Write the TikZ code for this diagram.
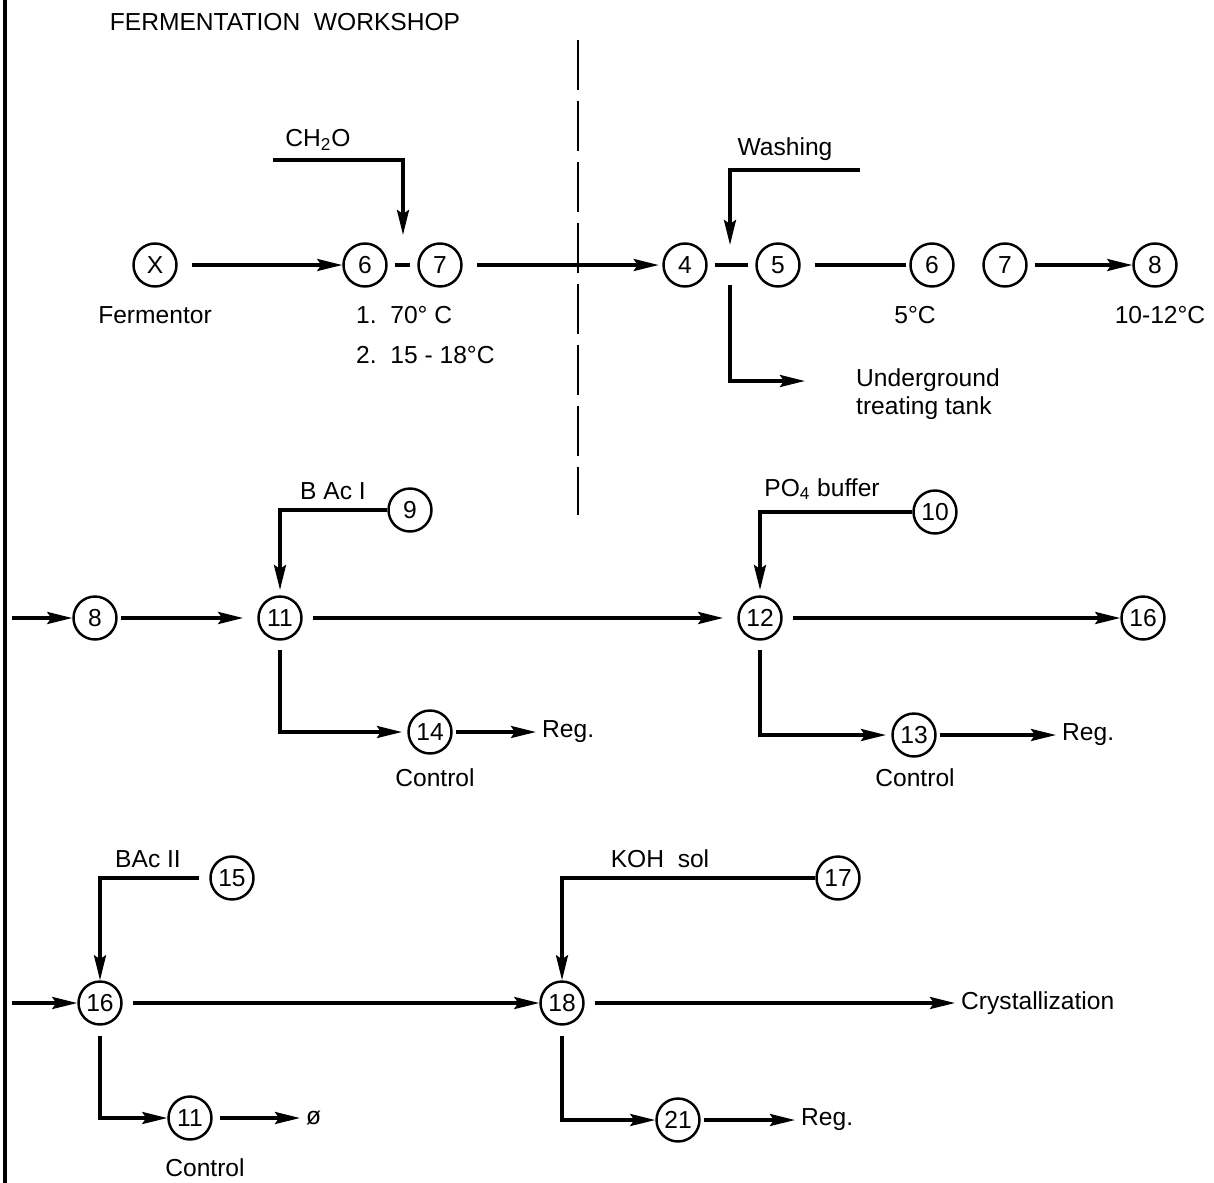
\documentclass[tikz,border=0pt]{standalone}
\usepackage{fontspec}
\setmainfont{Liberation Sans}
\usetikzlibrary{arrows.meta,positioning}
\tikzset{
  stn/.style={circle, draw, line width=1.4pt, minimum size=0.86cm, inner sep=0pt},
  flow/.style={line width=2pt, -{Stealth[length=5mm,width=2.4mm,inset=0.8mm]}},
  pipe/.style={line width=2pt},
  frame/.style={line width=2.2pt},
  sep/.style={line width=1.4pt, dash pattern=on 1cm off 0.22cm},
}

\begin{document}
\begin{tikzpicture}[x=0.02cm, y=-0.02cm, font=\fontsize{14}{16}\selectfont]
  \useasboundingbox (0,0) rectangle (1214,1183);
  \draw[frame] (5,0) -- (5,1183);
  \draw[sep] (578,40) -- (578,515);
  \node at (285,22) {FERMENTATION\ \ WORKSHOP};

  % first line: fermentor to cooling
  \node[stn] (fx) at (155,265) {X};
  \node[stn] (r6) at (365,265) {6};
  \node[stn] (r7) at (440,265) {7};
  \node[stn] (w4) at (685,265) {4};
  \node[stn] (w5) at (778,265) {5};
  \node[stn] (w6) at (932,265) {6};
  \node[stn] (w7) at (1005,265) {7};
  \node[stn] (w8) at (1155,265) {8};
  \coordinate (ch) at (273,160);
  \coordinate (j67) at (403,235);
  \coordinate (wa) at (860,170);
  \coordinate (j45) at (730,245);
  \coordinate (j45b) at (730,285);
  \coordinate (ug) at (805,381);
  \draw[flow, shorten <=8pt] (fx) -- (r6);
  \draw[pipe, shorten <=4pt, shorten >=4pt] (r6) -- (r7);
  \draw[flow] (ch) -| (j67);
  \node[anchor=south] at (318,157) {CH\textsubscript{2}O};
  \draw[flow, shorten <=8pt, shorten >=2pt] (r7) -- (w4);
  \draw[pipe, shorten <=4pt, shorten >=4pt] (w4) -- (w5);
  \draw[flow] (wa) -| (j45);
  \node[anchor=south] at (785,167) {Washing};
  \draw[flow] (j45b) |- (ug);
  \node[anchor=west, align=left] at (850,394) {Underground\\treating tank};
  \draw[pipe, shorten <=8pt, shorten >=2pt] (w5) -- (w6);
  \draw[flow, shorten <=4pt] (w7) -- (w8);
  \node at (155,315) {Fermentor};
  \node[anchor=west] at (350,315) {1.\ \ 70° C};
  \node[anchor=west] at (350,355) {2.\ \ 15 - 18°C};
  \node at (915,315) {5°C};
  \node at (1160,315) {10-12°C};

  % second line
  \node[stn] (n8) at (95,618) {8};
  \node[stn] (n11) at (280,618) {11};
  \node[stn] (n12) at (760,618) {12};
  \node[stn] (n16) at (1143,618) {16};
  \node[stn] (n9) at (410,510) {9};
  \node[stn] (n10) at (935,512) {10};
  \node[stn] (n14) at (430,732) {14};
  \node[stn] (n13) at (914,735) {13};
  \coordinate (in8) at (12,618);
  \draw[flow] (in8) -- (n8);
  \draw[flow, shorten <=2pt, shorten >=8pt] (n8) -- (n11);
  \draw[flow, shorten <=6pt, shorten >=8pt] (n11) -- (n12);
  \draw[flow, shorten <=6pt] (n12) -- (n16);
  \draw[flow, shorten >=3pt] (n9) -| (n11);
  \node[anchor=south] at (333,506) {B Ac I};
  \draw[flow, shorten >=3pt] (n10) -| (n12);
  \node[anchor=south] at (822,506) {PO\textsubscript{4} buffer};
  \draw[flow, shorten <=5pt, shorten >=3pt] (n11) |- (n14);
  \draw[flow, shorten <=5pt, shorten >=3pt] (n12) |- (n13);
  \node[anchor=west] (rg1) at (536,732) {Reg.};
  \draw[flow, shorten <=2pt] (n14) -- (rg1);
  \node[anchor=west] (rg2) at (1056,735) {Reg.};
  \draw[flow, shorten <=2pt] (n13) -- (rg2);
  \node at (435,778) {Control};
  \node at (915,778) {Control};

  % third line
  \node[stn] (m16) at (100,1003) {16};
  \node[stn] (m18) at (562,1003) {18};
  \node[stn] (m15) at (232,878) {15};
  \node[stn] (m17) at (838,878) {17};
  \node[stn] (m11) at (190,1118) {11};
  \node[stn] (m21) at (678,1120) {21};
  \coordinate (in16) at (12,1003);
  \draw[flow] (in16) -- (m16);
  \draw[flow, shorten <=6pt] (m16) -- (m18);
  \node[anchor=west] (cry) at (955,1003) {Crystallization};
  \draw[flow, shorten <=6pt] (m18) -- (cry);
  \draw[flow, shorten <=6pt] (m15) -| (m16);
  \node[anchor=south] at (148,874) {BAc II};
  \draw[flow] (m17) -| (m18);
  \node[anchor=south] at (660,874) {KOH\ \ sol};
  \draw[flow, shorten <=6pt] (m16) |- (m11);
  \node[anchor=west] (nul) at (300,1118) {ø};
  \draw[flow, shorten <=4pt] (m11) -- (nul);
  \draw[flow, shorten <=6pt] (m18) |- (m21);
  \node[anchor=west] (rg3) at (795,1120) {Reg.};
  \draw[flow, shorten <=2pt] (m21) -- (rg3);
  \node at (205,1168) {Control};
\end{tikzpicture}
\end{document}
